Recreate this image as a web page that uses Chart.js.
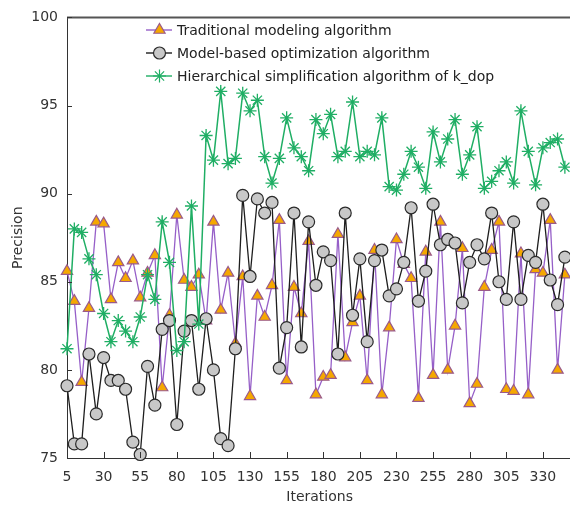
<!DOCTYPE html>
<html>
<head>
<meta charset="utf-8">
<script src="https://cdn.jsdelivr.net/npm/chart.js@4.4.1/dist/chart.umd.min.js"></script>
<style>
  body { margin: 0; background: #fff; }
  #wrap { width: 570px; height: 506px; overflow: hidden; }
</style>
</head>
<body>
<div id="wrap"><canvas id="myChart" width="580" height="506"></canvas></div>
<script>
// iterations 5, 10, ... 345
var iterations = [];
for (var k = 5; k <= 345; k += 5) iterations.push(k);

var xTicks = [5, 30, 55, 80, 105, 130, 155, 180, 205, 230, 255, 280, 305, 330];
var yTicks = [75, 80, 85, 90, 95, 100];

var seriesNames = [
  "Traditional modeling algorithm",
  "Model-based optimization algorithm",
  "Hierarchical simplification algorithm of k_dop"
];

var traditional = [
  85.6, 83.9, 79.3, 83.5, 88.4, 88.3, 84.0, 86.1, 85.2, 86.2,
  84.1, 85.5, 86.5, 79.0, 83.1, 88.8, 85.1, 84.7, 85.4, 82.8,
  88.4, 83.4, 85.5, 81.5, 85.3, 78.5, 84.2, 83.0, 84.8, 88.5,
  79.4, 84.7, 83.2, 87.3, 78.6, 79.6, 79.7, 87.7, 80.7, 82.7,
  84.2, 79.4, 86.8, 78.6, 82.4, 87.4, 86.0, 85.2, 78.4, 86.7,
  79.7, 88.4, 80.0, 82.5, 86.9, 78.1, 79.2, 84.7, 86.8, 88.4,
  78.9, 78.8, 86.6, 78.6, 85.7, 85.5, 88.5, 80.0, 85.4
];

var modelBased = [
  79.1, 75.8, 75.8, 80.9, 77.5, 80.7, 79.4, 79.4, 78.9, 75.9,
  75.2, 80.2, 78.0, 82.3, 82.8, 76.9, 82.2, 82.8, 78.9, 82.9,
  80.0, 76.1, 75.7, 81.2, 89.9, 85.3, 89.7, 88.9, 89.5, 80.1,
  82.4, 88.9, 81.3, 88.4, 84.8, 86.7, 86.2, 80.9, 88.9, 83.1,
  86.3, 81.6, 86.2, 86.8, 84.2, 84.6, 86.1, 89.2, 83.9, 85.6,
  89.4, 87.1, 87.4, 87.2, 83.8, 86.1, 87.1, 86.3, 88.9, 85.0,
  84.0, 88.4, 84.0, 86.5, 86.1, 89.4, 85.1, 83.7, 86.4
];

var hierarchical = [
  81.2, 88.0, 87.8, 86.3, 85.4, 83.2, 81.6, 82.8, 82.2, 81.6,
  83.0, 85.4, 84.0, 88.4, 86.1, 81.1, 81.6, 89.3, 82.6, 93.3,
  91.9, 95.8, 91.7, 92.0, 95.7, 94.7, 95.3, 92.1, 90.6, 92.0,
  94.3, 92.6, 92.1, 91.3, 94.2, 93.4, 94.5, 92.1, 92.4, 95.2,
  92.1, 92.4, 92.2, 94.3, 90.4, 90.2, 91.1, 92.4, 91.5, 90.3,
  93.5, 91.8, 93.1, 94.2, 91.1, 92.2, 93.8, 90.3, 90.7, 91.3,
  91.8, 90.6, 94.7, 92.4, 90.5, 92.6, 92.9, 93.1, 91.5
];

function toPoints(values) {
  return values.map(function (v, i) {
    return { x: iterations[i], y: v };
  });
}

var FONT = "'DejaVu Sans', Verdana, sans-serif";

var styles = [
  { line: "#965fc8", fill: "#f5a800", edge: "#9a5a8a", shape: "triangle", radius: 6.5 },
  { line: "#1e1e1e", fill: "#c8c8c8", edge: "#2a2a2a", shape: "circle", radius: 6 },
  { line: "#1fae64", fill: "#1fae64", edge: "#1fae64", shape: "star", radius: 6.5 }
];

// frame, inward tick marks and legend inside the plot
var decorations = {
  id: "decorations",
  afterDraw: function (chart) {
    var ctx = chart.ctx;
    var a = chart.chartArea;
    var xs = chart.scales.x, ys = chart.scales.y;
    ctx.save();
    ctx.strokeStyle = "#555";
    ctx.lineWidth = 2;
    ctx.beginPath();
    ctx.moveTo(a.left, a.top);
    ctx.lineTo(a.right + 5, a.top);
    ctx.stroke();

    ctx.strokeStyle = "#333";
    ctx.lineWidth = 1;
    ctx.beginPath();
    xTicks.forEach(function (t) {
      var px = Math.round(xs.getPixelForValue(t)) + 0.5;
      ctx.moveTo(px, a.bottom);
      ctx.lineTo(px, a.bottom - 6);
    });
    yTicks.forEach(function (t) {
      var py = Math.round(ys.getPixelForValue(t)) + 0.5;
      ctx.moveTo(a.left, py);
      ctx.lineTo(a.left + 5, py);
    });
    ctx.stroke();

    // legend
    ctx.font = "14px " + FONT;
    ctx.textBaseline = "middle";
    ctx.textAlign = "left";
    seriesNames.forEach(function (name, i) {
      var y = 30 + i * 23;
      var s = styles[i];
      ctx.strokeStyle = s.line;
      ctx.lineWidth = 1.4;
      ctx.beginPath();
      ctx.moveTo(146, y);
      ctx.lineTo(172, y);
      ctx.stroke();
      drawMarker(ctx, s, 159.5, y);
      ctx.fillStyle = "#222";
      ctx.fillText(name, 177, y + 1);
    });
    ctx.restore();
  }
};

function drawMarker(ctx, s, x, y) {
  var r = s.radius;
  ctx.lineWidth = 1.2;
  ctx.fillStyle = s.fill;
  ctx.strokeStyle = s.edge;
  ctx.beginPath();
  if (s.shape === "triangle") {
    for (var i = 0; i < 3; i++) {
      var ang = i * 2 * Math.PI / 3;
      var px = x + Math.sin(ang) * r, py = y - Math.cos(ang) * r;
      if (i === 0) ctx.moveTo(px, py); else ctx.lineTo(px, py);
    }
    ctx.closePath();
    ctx.fill();
    ctx.stroke();
  } else if (s.shape === "circle") {
    ctx.arc(x, y, r, 0, Math.PI * 2);
    ctx.fill();
    ctx.stroke();
  } else {
    for (var j = 0; j < 4; j++) {
      var a2 = j * Math.PI / 4;
      ctx.moveTo(x - Math.cos(a2) * r, y - Math.sin(a2) * r);
      ctx.lineTo(x + Math.cos(a2) * r, y + Math.sin(a2) * r);
    }
    ctx.stroke();
  }
}

var allData = [traditional, modelBased, hierarchical];

new Chart("myChart", {
  type: "line",
  data: {
    datasets: allData.map(function (vals, i) {
      var s = styles[i];
      return {
        label: seriesNames[i],
        data: toPoints(vals),
        borderColor: s.line,
        borderWidth: i === 2 ? 1.5 : 1.3,
        pointStyle: s.shape,
        pointRadius: s.radius,
        pointBackgroundColor: s.fill,
        pointBorderColor: s.edge,
        pointBorderWidth: i === 2 ? 1.3 : 1.2,
        fill: false,
        tension: 0,
        clip: false,
        order: 3 - i
      };
    })
  },
  options: {
    responsive: false,
    animation: false,
    layout: { padding: { left: 0, top: 15, right: 3, bottom: 0 } },
    plugins: {
      legend: { display: false },
      tooltip: { enabled: false }
    },
    scales: {
      x: {
        type: "linear",
        min: 5,
        max: 350,
        afterBuildTicks: function (scale) {
          scale.ticks = xTicks.map(function (v) { return { value: v }; });
        },
        afterFit: function (scale) { scale.height = 48; },
        grid: { display: false, drawTicks: false },
        border: { display: true, color: "#333", width: 1 },
        ticks: {
          padding: 11,
          autoSkip: false,
          maxRotation: 0,
          color: "#333",
          font: { family: FONT, size: 14 }
        },
        title: {
          display: true,
          text: "Iterations",
          color: "#333",
          padding: { top: 0, bottom: 0 },
          font: { family: FONT, size: 14 }
        }
      },
      y: {
        min: 75,
        max: 100,
        afterBuildTicks: function (scale) {
          scale.ticks = yTicks.map(function (v) { return { value: v }; });
        },
        afterFit: function (scale) { scale.width = 67; },
        grid: { display: false, drawTicks: false },
        border: { display: true, color: "#333", width: 1 },
        ticks: {
          padding: 9,
          color: "#333",
          font: { family: FONT, size: 14 }
        },
        title: {
          display: true,
          text: "Precision",
          color: "#333",
          padding: { top: 10, bottom: 0 },
          font: { family: FONT, size: 14 }
        }
      }
    }
  },
  plugins: [decorations]
});
</script>
</body>
</html>
